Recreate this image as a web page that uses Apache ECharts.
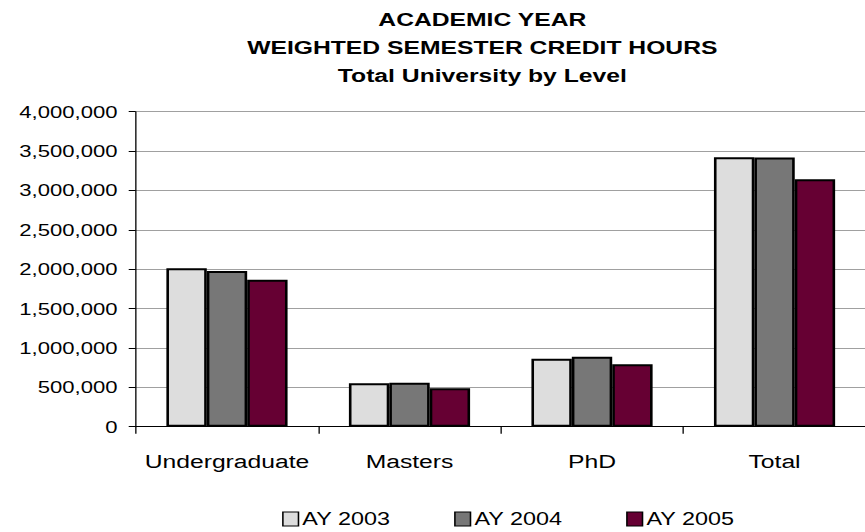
<!DOCTYPE html>
<html>
<head>
<meta charset="utf-8">
<title>Weighted Semester Credit Hours</title>
<script src="https://cdn.jsdelivr.net/npm/echarts@6/dist/echarts.min.js"></script>
<style>
  html, body { margin: 0; padding: 0; background: #fff; overflow: hidden; }
  /* the original chart has its text stretched sideways, so draw narrow and widen */
  #chart { width: 666px; height: 532px; transform: scaleX(1.3); transform-origin: 0 0; }
</style>
</head>
<body>
<div id="chart"></div>
<script>
var levels = ['Undergraduate', 'Masters', 'PhD', 'Total'];
var years = ['AY 2003', 'AY 2004', 'AY 2005'];
var ay2003 = [2011000, 551000, 863000, 3421000];
var ay2004 = [1977000, 559000, 889000, 3418000];
var ay2005 = [1867000, 488000, 792000, 3142000];
var yTicks = [0, 500000, 1000000, 1500000, 2000000, 2500000, 3000000, 3500000, 4000000];
var colors = ['#dddddd', '#777777', '#660033'];

var FONT = '"Liberation Sans", Arial, sans-serif';

function fmt(v) {
    return v.toString().replace(/\B(?=(\d{3})+(?!\d))/g, ',');
}

var myChart = echarts.init(document.getElementById('chart'), null, { renderer: 'svg' });

var seriesData = [ay2003, ay2004, ay2005];
var series = [];
for (var i = 0; i < years.length; i++) {
    series.push({
        name: years[i],
        type: 'bar',
        data: seriesData[i],
        barGap: '0%',
        barCategoryGap: '33.6%',
        itemStyle: {
            color: colors[i],
            borderColor: '#000',
            borderWidth: 2
        }
    });
}

var option = {
    animation: false,
    textStyle: { fontFamily: FONT },
    title: {
        text: 'ACADEMIC YEAR\nWEIGHTED SEMESTER CREDIT HOURS\nTotal University by Level',
        left: 371,
        top: 6,
        padding: 0,
        textAlign: 'center',
        textStyle: {
            fontFamily: FONT,
            fontSize: 19,
            fontWeight: 'bold',
            color: '#000',
            lineHeight: 28
        }
    },
    legend: {
        data: years,
        left: 212,
        top: 505,
        itemWidth: 12,
        itemHeight: 14,
        itemGap: 49,
        icon: 'rect',
        itemStyle: { borderColor: '#000', borderWidth: 1.2 },
        textStyle: { fontFamily: FONT, fontSize: 18, color: '#000', padding: [0, 0, 0, -2] }
    },
    grid: {
        left: 104.4,
        top: 111.7,
        width: 573,
        height: 315,
        containLabel: false
    },
    xAxis: {
        type: 'category',
        data: levels,
        axisLine: { lineStyle: { color: '#000', width: 1 } },
        axisTick: { show: true, length: 7, interval: 0, alignWithLabel: false, lineStyle: { color: '#000' } },
        axisLabel: { fontFamily: FONT, fontSize: 19, color: '#000', margin: 25, interval: 0 }
    },
    yAxis: {
        type: 'value',
        min: yTicks[0],
        max: yTicks[yTicks.length - 1],
        interval: yTicks[1] - yTicks[0],
        axisLine: { show: true, lineStyle: { color: '#000', width: 1 } },
        axisTick: { show: true, length: 5.4, lineStyle: { color: '#000' } },
        splitLine: { lineStyle: { color: '#a0a0a0', width: 1 } },
        axisLabel: {
            fontFamily: FONT,
            fontSize: 17,
            color: '#000',
            margin: 14,
            formatter: function(v) { return fmt(v); }
        }
    },
    series: series
};

myChart.setOption(option);
</script>
</body>
</html>
